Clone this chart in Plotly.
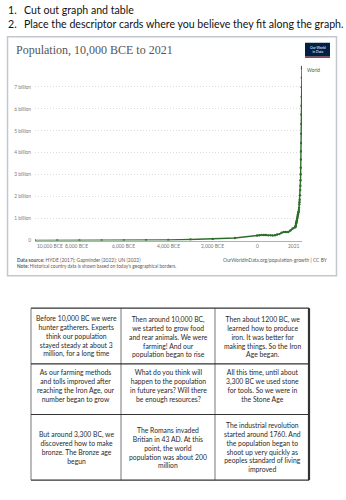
import plotly.graph_objects as go

W, H = 346, 500

# ---------------- data ----------------
years = [-10000, -9000, -8000, -7000, -6000, -5000, -4000, -3000, -2000, -1000,
         0, 100, 200, 300, 400, 500, 600, 700, 800, 900, 1000, 1100, 1200, 1300,
         1400, 1500, 1600, 1700, 1710, 1720, 1730, 1740, 1750, 1760, 1770, 1780,
         1790, 1800, 1810, 1820, 1830, 1840, 1850, 1860, 1870, 1880, 1890, 1900,
         1910, 1920, 1930, 1940, 1950, 1955, 1960, 1965, 1970, 1975, 1980, 1985,
         1990, 1995, 2000, 2005, 2010, 2015, 2020, 2021]
population_bn = [0.0044, 0.0050, 0.0057, 0.0076, 0.0102, 0.0152, 0.0281, 0.0446, 0.0721, 0.115,
                 0.232, 0.240, 0.257, 0.256, 0.254, 0.237, 0.240, 0.233, 0.240, 0.274, 0.295, 0.353, 0.393, 0.392,
                 0.390, 0.461, 0.554, 0.603, 0.610, 0.627, 0.647, 0.677, 0.749, 0.790, 0.830, 0.880,
                 0.930, 0.990, 1.025, 1.080, 1.140, 1.200, 1.260, 1.290, 1.320, 1.400, 1.500, 1.650,
                 1.750, 1.860, 2.070, 2.300, 2.499, 2.746, 3.019, 3.322, 3.695, 4.070, 4.444, 4.862,
                 5.316, 5.743, 6.149, 6.558, 6.986, 7.427, 7.841, 7.909]

y_tick_vals = [0, 1, 2, 3, 4, 5, 6, 7]
y_tick_text = ["0", "1 billion", "2 billion", "3 billion", "4 billion", "5 billion", "6 billion", "7 billion"]
x_tick_vals = [-10000, -8000, -6000, -4000, -2000, 0, 2021]
x_tick_text = ["10,000 BCE", "8,000 BCE", "6,000 BCE", "4,000 BCE", "2,000 BCE", "0", "2021"]

header_lines = ["Cut out graph and table",
                "Place the descriptor cards where you believe they fit along the graph."]

cards = [
    ["Before 10,000 BC we were<br>hunter gatherers. Experts<br>think our population<br>stayed steady at about 3<br>million, for a long time",
     "Then around 10,000 BC,<br>we started to grow food<br>and rear animals. We were<br>farming! And our<br>population began to rise",
     "Then about 1200 BC, we<br>learned how to produce<br>iron. It was better for<br>making things. So the Iron<br>Age began."],
    ["As our farming methods<br>and tolls improved after<br>reaching the Iron Age, our<br>number began to grow",
     "What do you think will<br>happen to the population<br>in future years? Will there<br>be enough resources?",
     "All this time, until about<br>3,300 BC we used stone<br>for tools. So we were in<br>the Stone Age"],
    ["But around 3,300 BC, we<br>discovered how to make<br>bronze. The Bronze age<br>begun",
     "The Romans invaded<br>Britian in 43 AD. At this<br>point, the world<br>population was about 200<br>million",
     "The industrial revolution<br>started around 1760. And<br>the population began to<br>shoot up very quickly as<br>peoples standard of living<br>improved"],
]


def px(x):
    return x / W


def py(y):
    return 1 - y / H


LINE = "#2f6d2b"
GREY = "#6b6b6b"

fig = go.Figure()
fig.add_trace(go.Scatter(
    x=years, y=population_bn, mode="lines+markers",
    line=dict(color=LINE, width=1.4),
    marker=dict(color=LINE, size=2.4),
    showlegend=False, hoverinfo="skip"))

fig.update_layout(
    width=W, height=H, margin=dict(l=0, r=0, t=0, b=0),
    paper_bgcolor="white", plot_bgcolor="white",
    font=dict(family="Lato", color=GREY),
    xaxis=dict(domain=[px(35), px(302)], range=[-10000, 2021], showgrid=False,
               zeroline=False, showline=True, linecolor="#b0b0b0", linewidth=1,
               showticklabels=False, ticks=""),
    yaxis=dict(domain=[py(242), py(65.4)], range=[0, 8], tickvals=y_tick_vals,
               ticktext=y_tick_text, showgrid=True, gridcolor="#dcdcdc",
               griddash="1px,2px", gridwidth=1, zeroline=False, showline=False,
               ticks="", tickfont=dict(size=4.8, color="#7a7a7a", family="Lato"),
               ticklabelstandoff=3),
)

shapes = []
ann = []


def text(x, y, t, size, color="#222", family="Lato", xanchor="left", align="left"):
    ann.append(dict(x=px(x), y=py(y), xref="paper", yref="paper", text=t, showarrow=False,
                    xanchor=xanchor, yanchor="middle", align=align,
                    font=dict(family=family, size=size, color=color)))


# header
for i, t in enumerate(header_lines):
    yy = 10 + i * 14
    text(6, yy, f"{i+1}.", 10.6, "#111")
    text(22, yy, t, 10.6, "#111")

# chart frame
shapes.append(dict(type="rect", xref="paper", yref="paper", x0=px(7.5), x1=px(336.5),
                   y0=py(277.5), y1=py(37), line=dict(color="#c3c8d0", width=1.5)))

# title
text(14, 50.5, "Population, 10,000 BCE to 2021", 12, "#555", "Liberation Serif")

# OWID logo
shapes.append(dict(type="rect", xref="paper", yref="paper", x0=px(305), x1=px(330),
                   y0=py(57), y1=py(43), fillcolor="#002147", line=dict(width=0)))
shapes.append(dict(type="rect", xref="paper", yref="paper", x0=px(305), x1=px(330),
                   y0=py(58.3), y1=py(57), fillcolor="#ce261e", line=dict(width=0)))
text(317.5, 50, "Our World<br>in Data", 3.4, "white", xanchor="center", align="center")

# series label
text(305, 70, "World", 4.8, "#3d5e3a")

# x tick labels (data coordinates)
for v, t in zip(x_tick_vals, x_tick_text):
    anchor, shift = "center", 0
    if v == -10000:
        anchor = "left"
    elif v == -8000:
        shift = -3
    elif v == 2021:
        anchor = "right"
    ann.append(dict(x=v, xref="x", y=py(247), yref="paper", text=t, showarrow=False,
                    xanchor=anchor, xshift=shift, yanchor="middle",
                    font=dict(family="Lato", size=4.9, color="#777")))

# footer
text(15, 261.7, "<b>Data source:</b> HYDE (2017); Gapminder (2022); UN (2022)", 4.9, "#5b5b5b")
text(15, 267.5, "<b>Note:</b> Historical country data is shown based on today's geographical borders.",
     4.7, "#5b5b5b")
text(330, 261.7, "OurWorldInData.org/population-growth | CC BY", 4.9, "#5b5b5b", xanchor="right")

# table of cards
col_x = [31, 121, 215, 309]
row_y = [310, 366, 417, 483]
row_text_y = [338.5, 388, 450]
for cx in col_x:
    w = 2.2 if cx == col_x[-1] else 1
    c = "#333" if cx == col_x[-1] else "#777"
    shapes.append(dict(type="line", xref="paper", yref="paper", x0=px(cx), x1=px(cx),
                       y0=py(row_y[0]), y1=py(row_y[-1]), line=dict(color=c, width=w)))
for ry in row_y:
    shapes.append(dict(type="line", xref="paper", yref="paper", x0=px(col_x[0]), x1=px(col_x[-1]),
                       y0=py(ry), y1=py(ry), line=dict(color="#333", width=1.2)))
for r, row in enumerate(cards):
    for c, txt in enumerate(row):
        cxm = (col_x[c] + col_x[c + 1]) / 2
        text(cxm, row_text_y[r], txt, 6.8, "#2a2a2a", xanchor="center", align="center")

fig.update_layout(shapes=shapes, annotations=ann)
fig.write_html("out.html")
